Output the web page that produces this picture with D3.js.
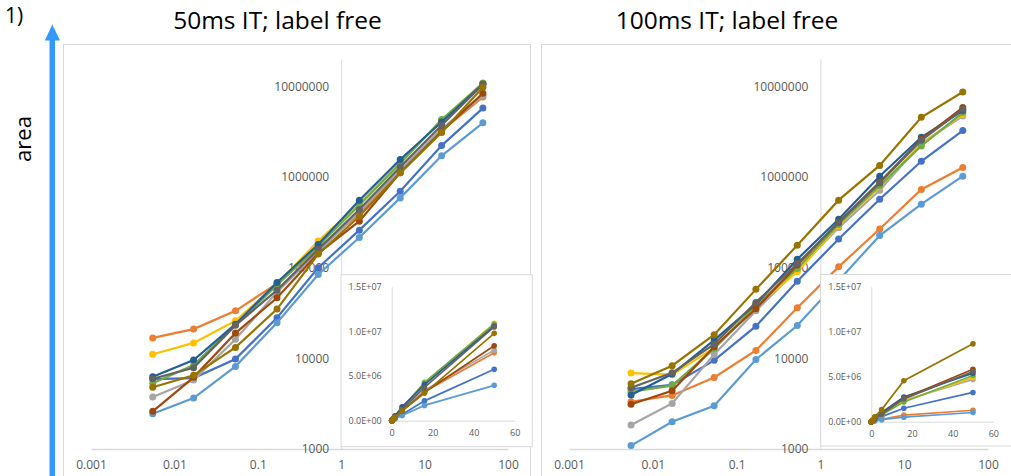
<!DOCTYPE html>
<html>
<head>
<meta charset="utf-8">
<script src="https://cdn.jsdelivr.net/npm/d3@7"></script>
<style>
  body { margin: 0; background: #fff; }
  svg { display: block; font-family: 'Open Sans', sans-serif; }
</style>
</head>
<body>
<svg id="chart" width="1011" height="476"></svg>
<script>
// exposure times (x) shared by every series
const xValues = [0.0055, 0.017, 0.054, 0.17, 0.53, 1.65, 5.1, 16, 50];

const seriesNames = ['s1', 's2', 's3', 's4', 's5', 's6', 's7', 's8', 's9', 's10'];
const palette = ['#4472C4', '#ED7D31', '#A5A5A5', '#FFC000', '#5B9BD5',
                 '#70AD47', '#255E91', '#9E480E', '#636363', '#997300'];

// 50ms IT, label free -- area per series
const area50 = [
  [5900, 6050, 9820, 28000, 99600, 259000, 697000, 2.22e6, 5.75e6],
  [16800, 21000, 33400, 66700, 164000, 389000, 1.15e6, 3.25e6, 7.6e6],
  [3740, 5750, 16200, 53700, 151000, 409000, 1.19e6, 3.4e6, 7.9e6],
  [11100, 14800, 25900, 65800, 197000, 510000, 1.45e6, 4.2e6, 10.9e6],
  [2450, 3650, 8150, 24700, 84200, 215000, 588000, 1.71e6, 3.96e6],
  [5300, 8430, 23400, 64100, 173000, 489000, 1.41e6, 4.3e6, 10.8e6],
  [6270, 9570, 23800, 68700, 180000, 555000, 1.56e6, 4.04e6, 10.6e6],
  [2600, 6170, 19000, 46500, 144000, 325000, 1.11e6, 3.18e6, 8.39e6],
  [5960, 7870, 23100, 56500, 159000, 438000, 1.29e6, 3.72e6, 10.5e6],
  [4790, 6490, 13200, 34900, 141000, 369000, 1.11e6, 3.09e6, 9.78e6]
];

// 100ms IT, label free
const area100 = [
  [4580, 5100, 9500, 22600, 70800, 207000, 569000, 1.49e6, 3.25e6],
  [3320, 3900, 6160, 12200, 36100, 102000, 267000, 728000, 1.27e6],
  [1840, 3180, 11000, 33400, 95000, 275000, 714000, 2.35e6, 4.7e6],
  [6870, 6600, 13000, 37000, 90000, 290000, 780000, 2.3e6, 4.9e6],
  [1090, 2000, 3000, 9700, 23000, 72000, 226000, 501000, 1.02e6],
  [4280, 5000, 12800, 38500, 98000, 300000, 800000, 2.2e6, 5.13e6],
  [3930, 6700, 15900, 39600, 124000, 342000, 1.02e6, 2.74e6, 5.4e6],
  [3110, 4380, 13400, 35200, 107000, 318000, 880000, 2.6e6, 5.82e6],
  [4730, 6920, 14300, 41400, 111000, 312000, 860000, 2.54e6, 5.57e6],
  [5250, 8280, 18200, 57600, 177000, 555000, 1.34e6, 4.55e6, 8.65e6]
];

const titles = ['50ms IT; label free', '100ms IT; label free'];
const xTicks = [0.001, 0.01, 0.1, 1, 10, 100];
const yTicks = [1000, 10000, 100000, 1000000, 10000000];
const insetXTicks = [0, 20, 40, 60];
const insetYTicks = [0, 5e6, 1e7, 1.5e7];

const svg = d3.select('#chart');
const gridColor = '#D9D9D9';
const labelColor = '#595959';

// Excel style scientific labels, e.g. 1.5E+07
const sci = d => {
  const [m, e] = d.toExponential(1).split('e');
  const n = +e;
  return m + 'E' + (n < 0 ? '-' : '+') + String(Math.abs(n)).padStart(2, '0');
};

// panel frames (positions only)
const panels = [
  {data: area50, title: titles[0], titleX: 277.5,
   box: [63.5, 44.5, 530.5, 520], xr: [91, 508],
   inset: [341, 274.7, 532.3, 446.7], ixr: [391.7, 514.7], iyr: [420.7, 286.7]},
  {data: area100, title: titles[1], titleX: 727,
   box: [541.5, 44.5, 1030, 520], xr: [569, 988],
   inset: [820.7, 274.5, 1030, 446], ixr: [871.3, 993.3], iyr: [421.7, 286.7]}
];

// header bits
svg.append('text')
  .attr('x', 5).attr('y', 22.7)
  .style('font-size', '21px')
  .text('1)');

svg.append('rect')
  .attr('x', 49.5).attr('y', 38)
  .attr('width', 5.5).attr('height', 450)
  .attr('fill', '#3399FF');
svg.append('path')
  .attr('d', 'M44.8,40.5 L60,40.5 L52.3,24.5 Z')
  .attr('fill', '#3399FF');

svg.append('text')
  .attr('transform', 'translate(22,139) rotate(-90)')
  .attr('text-anchor', 'middle')
  .attr('dominant-baseline', 'central')
  .style('font-size', '22px')
  .text('area');

panels.forEach(p => {
  const g = svg.append('g');

  g.append('rect')
    .attr('x', p.box[0]).attr('y', p.box[1])
    .attr('width', p.box[2] - p.box[0]).attr('height', p.box[3] - p.box[1])
    .attr('fill', 'none')
    .attr('stroke', gridColor);

  g.append('text')
    .attr('x', p.titleX).attr('y', 28.5)
    .attr('text-anchor', 'middle')
    .style('font-size', '24.5px')
    .text(p.title);

  // main log-log chart
  const x = d3.scaleLog().domain([0.001, 100]).range(p.xr);
  const y = d3.scaleLog().domain([1000, 2e7]).range([449, 59]);

  const xAxis = g.append('g')
    .attr('transform', `translate(0, ${y(1000)})`)
    .call(d3.axisBottom(x).tickValues(xTicks).tickSize(0).tickPadding(11)
      .tickFormat(d => String(d)));

  const yAxis = g.append('g')
    .attr('transform', `translate(${x(1)}, 0)`)
    .call(d3.axisLeft(y).tickValues(yTicks).tickSize(0).tickPadding(12)
      .tickFormat(d3.format('d')));

  [xAxis, yAxis].forEach(a => {
    a.select('.domain').attr('stroke', gridColor).attr('stroke-width', 1.5);
    a.selectAll('text')
      .attr('fill', labelColor)
      .style('font-family', "'Open Sans', sans-serif")
      .style('font-size', '12px');
  });
  yAxis.select('.domain').attr('stroke-width', 1);

  const line = d3.line()
    .x((d, i) => x(xValues[i]))
    .y(d => y(d));

  p.data.forEach((vals, s) => {
    const sg = g.append('g').attr('class', 'series-' + seriesNames[s]);
    sg.append('path')
      .datum(vals)
      .attr('d', line)
      .attr('fill', 'none')
      .attr('stroke', palette[s])
      .attr('stroke-width', 2.2);
    sg.selectAll('circle')
      .data(vals)
      .enter()
      .append('circle')
      .attr('cx', (d, i) => x(xValues[i]))
      .attr('cy', d => y(d))
      .attr('r', 3.5)
      .attr('fill', palette[s]);
  });

  // linear inset
  const ig = g.append('g');
  ig.append('rect')
    .attr('x', p.inset[0]).attr('y', p.inset[1])
    .attr('width', p.inset[2] - p.inset[0]).attr('height', p.inset[3] - p.inset[1])
    .attr('fill', '#fff')
    .attr('stroke', gridColor);

  const ix = d3.scaleLinear().domain([0, 60]).range(p.ixr);
  const iy = d3.scaleLinear().domain([0, 1.5e7]).range(p.iyr);

  const ixAxis = ig.append('g')
    .attr('transform', `translate(0, ${iy(0)})`)
    .call(d3.axisBottom(ix).tickValues(insetXTicks).tickSize(0).tickPadding(9));

  const iyAxis = ig.append('g')
    .attr('transform', `translate(${ix(0)}, 0)`)
    .call(d3.axisLeft(iy).tickValues(insetYTicks).tickSize(0).tickPadding(10)
      .tickFormat(sci));

  [ixAxis, iyAxis].forEach(a => {
    a.select('.domain').attr('stroke', gridColor).attr('stroke-width', 1);
    a.selectAll('text')
      .attr('fill', labelColor)
      .style('font-family', "'Open Sans', sans-serif")
      .style('font-size', '9px');
  });

  const iline = d3.line()
    .x((d, i) => ix(xValues[i]))
    .y(d => iy(d));

  p.data.forEach((vals, s) => {
    const sg = ig.append('g');
    sg.append('path')
      .datum(vals)
      .attr('d', iline)
      .attr('fill', 'none')
      .attr('stroke', palette[s])
      .attr('stroke-width', 1.7);
    sg.selectAll('circle')
      .data(vals)
      .enter()
      .append('circle')
      .attr('cx', (d, i) => ix(xValues[i]))
      .attr('cy', d => iy(d))
      .attr('r', 2.8)
      .attr('fill', palette[s]);
  });
});
</script>
</body>
</html>
